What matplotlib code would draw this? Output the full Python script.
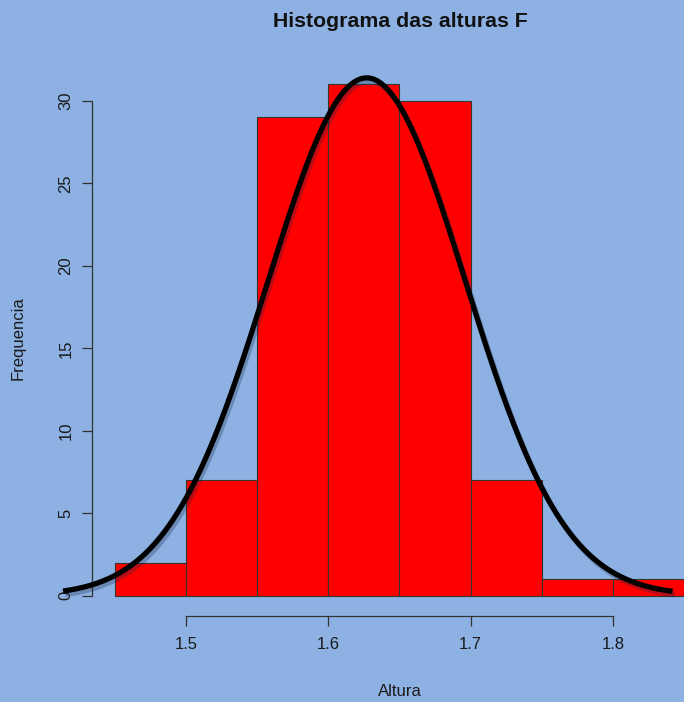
import numpy as np
import matplotlib
matplotlib.use('Agg')
from matplotlib import pyplot as plt
from matplotlib import patheffects

# histogram of heights (Altura), bins of 0.05
bin_edges = [1.45, 1.50, 1.55, 1.60, 1.65, 1.70, 1.75, 1.80, 1.85]
counts = [2, 7, 29, 31, 30, 7, 1, 1]
y_ticks = [0, 5, 10, 15, 20, 25, 30]
x_ticks = [1.5, 1.6, 1.7, 1.8]

# normal curve drawn over the histogram
curve_mean = 1.627
curve_sd = 0.0695
curve_peak = 31.4
curve_from = 1.4136
curve_to = 1.842

bg = '#8db1e3'
plt.rcParams['font.family'] = ['Liberation Sans', 'DejaVu Sans']

fig = plt.figure(figsize=(6.84, 7.02), dpi=100, facecolor=bg)
ax = fig.add_axes([43.7 / 684, 98 / 702, (684 - 43.7) / 684, 552.5 / 702])
ax.set_facecolor(bg)
ax.patch.set_alpha(0)

widths = np.diff(bin_edges)
ax.bar(bin_edges[:-1], counts, width=widths, align='edge', color='#ff0000',
       edgecolor='#333333', linewidth=0.8, zorder=2)

# like R's curve(): evaluate the density on a fine grid
xs = np.linspace(curve_from, curve_to, 400)
ys = curve_peak * np.exp(-(xs - curve_mean) ** 2 / (2 * curve_sd ** 2))
ax.plot(xs, ys, color='black', linewidth=3.8, solid_capstyle='butt', zorder=3,
        path_effects=[patheffects.SimpleLineShadow(offset=(1.5, -2.5), shadow_color='#1a2a4a', alpha=0.3),
                      patheffects.Normal()])

ax.set_xlim(1.40, 1.85)
ax.set_ylim(-0.5, 33)

for s in ['top', 'right']:
    ax.spines[s].set_visible(False)
ax.spines['left'].set_position(('data', 1.434))
ax.spines['left'].set_bounds(0, 30)
ax.spines['bottom'].set_position(('data', -1.21))
ax.spines['bottom'].set_bounds(1.5, 1.8)
for s in ['left', 'bottom']:
    ax.spines[s].set_color('#333333')
    ax.spines[s].set_linewidth(0.9)

ax.set_yticks(y_ticks)
ax.set_yticklabels([str(t) for t in y_ticks], rotation=90, va='center')
ax.set_xticks(x_ticks)
ax.set_xticklabels([str(t) for t in x_ticks])
ax.tick_params(axis='both', colors='#333333', labelcolor='#1a1a1a', labelsize=12,
               length=7.5, width=0.9)
ax.tick_params(axis='y', pad=6)
ax.tick_params(axis='x', pad=8)

fig.text(400 / 684, 1 - 21.5 / 702, 'Histograma das alturas F', ha='center', va='center',
         fontsize=15.3, fontweight='bold', color='#111111')
fig.text(400 / 684, 1 - 691 / 702, 'Altura', ha='center', va='center',
         fontsize=12, color='#1a1a1a')
fig.text(18 / 684, 1 - 338 / 702, 'Frequencia', ha='center', va='center',
         rotation=90, fontsize=12, color='#1a1a1a')

fig.savefig('out.png', dpi=100, facecolor=bg)
